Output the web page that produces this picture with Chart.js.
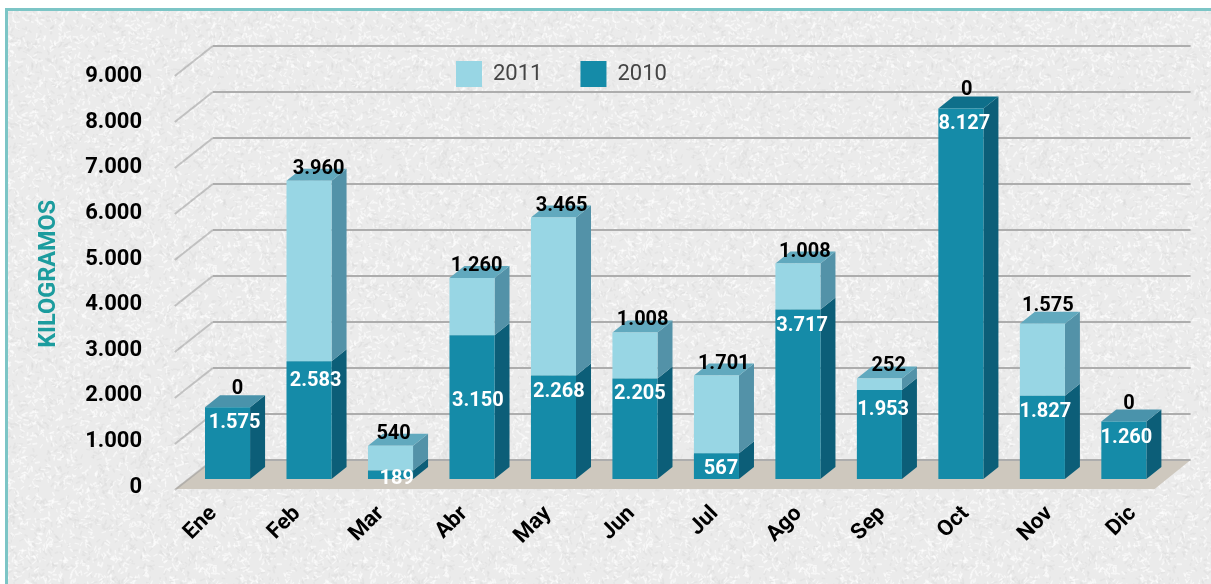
<!DOCTYPE html>
<html lang="es">
<head>
<meta charset="utf-8">
<style>html,body{margin:0;padding:0;background:#fff}canvas{display:block}</style>
<script src="https://cdn.jsdelivr.net/npm/chart.js@4"></script>
</head>
<body>
<canvas id="c" width="1211" height="584"></canvas>
<script>
const months = ['Ene','Feb','Mar','Abr','May','Jun','Jul','Ago','Sep','Oct','Nov','Dic'];
const values2010 = [1575,2583,189,3150,2268,2205,567,3717,1953,8127,1827,1260];
const values2011 = [0,3960,540,1260,3465,1008,1701,1008,252,0,1575,0];
const axisTitle = 'KILOGRAMOS';

const FONT = 'Roboto, sans-serif';
const fmt = v => String(v).replace(/\B(?=(\d{3})+$)/g, '.');
const innerNudge = {Feb:4, Mar:-7, Abr:50, Sep:4};
const topNudgeX = {Mar:-6, Abr:-4, Sep:3};
const DX = 15, DY = 12;
const PLOT_TOP = 68.6, PLOT_BOTTOM = 479;

function makeTexture() {
  const t = document.createElement('canvas');
  t.width = t.height = 300;
  const g = t.getContext('2d');
  g.fillStyle = '#ebebeb';
  g.fillRect(0, 0, 300, 300);
  let s = 12345;
  const r = () => (s = (s * 1103515245 + 12345) & 0x7fffffff) / 0x7fffffff;
  g.lineCap = 'round';
  for (let i = 0; i < 5000; i++) {
    const x = r() * 300, y = r() * 300, a = r() * 6.28, l = 1.5 + r() * 3;
    const light = r() > 0.4;
    g.strokeStyle = light ? 'rgba(255,255,255,0.55)' : 'rgba(218,218,218,0.4)';
    g.lineWidth = 1 + r();
    g.beginPath();
    g.moveTo(x, y);
    g.lineTo(x + Math.cos(a) * l, y + Math.sin(a) * l);
    g.stroke();
  }
  return t;
}
const texture = makeTexture();

function poly(ctx, pts, fill) {
  ctx.fillStyle = fill;
  ctx.beginPath();
  pts.forEach((p, i) => i ? ctx.lineTo(p[0], p[1]) : ctx.moveTo(p[0], p[1]));
  ctx.closePath();
  ctx.fill();
}

const scene = {
  id: 'scene',
  afterLayout(chart) {
    const l = chart.legend;
    l.left = 418; l.right = 1200; l.top = 23; l.bottom = 100;
    const y = chart.scales.y, area = chart.chartArea;
    y.top = PLOT_TOP; y.bottom = PLOT_BOTTOM; y.height = PLOT_BOTTOM - PLOT_TOP;
    y.configure();
    area.top = PLOT_TOP; area.bottom = PLOT_BOTTOM; area.height = PLOT_BOTTOM - PLOT_TOP;
  },
  beforeDraw(chart) {
    const {ctx, scales: {x, y}} = chart;
    ctx.save();
    ctx.fillStyle = '#fff';
    ctx.fillRect(0, 0, 1211, 584);
    ctx.fillStyle = ctx.createPattern(texture, 'repeat');
    ctx.fillRect(5, 8, 1206, 576);
    ctx.fillStyle = '#7cc5c6';
    ctx.fillRect(5, 8, 1206, 3);
    ctx.fillRect(5, 8, 3, 576);

    const y0 = y.getPixelForValue(0);
    const back = y0 - 19, bl = x.left + 26, br = x.right + 26, fl = x.left - 12, fr = x.right - 10;
    poly(ctx, [[fl, y0 + 10], [fr, y0 + 10], [br, back], [bl, back]], '#cec8be');
    y.ticks.forEach(t => {
      const by = back - (y0 - y.getPixelForValue(t.value)) * 46 / 45.6;
      ctx.lineWidth = 2;
      ctx.strokeStyle = 'rgba(150,150,150,0.5)';
      ctx.beginPath(); ctx.moveTo(fl, by + 30); ctx.lineTo(bl, by); ctx.stroke();
      ctx.strokeStyle = '#adadad';
      ctx.beginPath(); ctx.moveTo(bl, by); ctx.lineTo(br, by); ctx.stroke();
    });
    ctx.restore();
  },
  beforeDatasetsDraw(chart) {
    const {ctx} = chart;
    const metas = [chart.getDatasetMeta(0), chart.getDatasetMeta(1)];
    const sides = ['#0c5e78', '#5392a8'];
    const tops = ['#4a93ab', '#61a9be'];
    ctx.save();
    months.forEach((m, i) => {
      metas.forEach((meta, d) => {
        const b = meta.data[i], v = chart.data.datasets[d].data[i];
        if (!v) return;
        const r = b.x + b.width / 2;
        poly(ctx, [[r, b.y], [r + DX, b.y - DY], [r + DX, b.base - DY], [r, b.base]], sides[d]);
        const isTop = d === 1 || !chart.data.datasets[1].data[i];
        if (isTop) {
          const l = b.x - b.width / 2;
          poly(ctx, [[l, b.y], [l + DX, b.y - DY], [r + DX, b.y - DY], [r, b.y]], m === 'Oct' ? '#0e6f8a' : tops[d]);
        }
      });
    });
    ctx.restore();
  },
  afterDatasetsDraw(chart) {
    const {ctx} = chart;
    const m0 = chart.getDatasetMeta(0), m1 = chart.getDatasetMeta(1);
    ctx.save();
    ctx.textAlign = 'center';
    ctx.textBaseline = 'middle';
    ctx.font = 'bold 20px ' + FONT;
    months.forEach((m, i) => {
      const a = m0.data[i], b = m1.data[i];
      ctx.fillStyle = '#fff';
      ctx.fillText(fmt(values2010[i]), a.x + 7 - i * 0.4, a.y + 16 + (innerNudge[m] || 0));
      const zero = !values2011[i] || m === 'Nov';
      ctx.fillStyle = '#000';
      ctx.fillText(fmt(values2011[i]), b.x + 10 - i * 0.45 + (topNudgeX[m] || 0), b.y - (zero ? 18 : 12));
    });
    ctx.restore();
  }
};

new Chart(document.getElementById('c'), {
  type: 'bar',
  data: {
    labels: months,
    datasets: [
      {label: '2010', data: values2010, backgroundColor: '#158ba8', borderWidth: 0, barPercentage: 0.553, categoryPercentage: 1},
      {label: '2011', data: values2011, backgroundColor: '#98d6e4', borderWidth: 0, barPercentage: 0.553, categoryPercentage: 1}
    ]
  },
  options: {
    responsive: false,
    animation: false,
    layout: {padding: {left: 0, right: 46.4, top: 0, bottom: 0}},
    plugins: {
      tooltip: {enabled: false},
      legend: {
        position: 'top',
        align: 'start',
        reverse: true,
        labels: {boxWidth: 26, boxHeight: 26, padding: 38, color: '#444', font: {family: FONT, size: 22}}
      }
    },
    scales: {
      x: {
        stacked: true,
        grid: {display: false, drawTicks: false},
        border: {display: false},
        afterFit(s) { s.height = 105; },
        afterBuildTicks(s) {
          const base = Object.getPrototypeOf(s).getPixelForTick;
          s.getPixelForTick = function (i) { return base.call(this, i) + i * 2.1; };
        },
        ticks: {
          maxRotation: 45, minRotation: 45, padding: 22, labelOffset: -14, autoSkip: false, color: '#000',
          font: {family: FONT, size: 22, weight: 'bold'}
        }
      },
      y: {
        stacked: true,
        min: 0,
        max: 9000,
        grid: {display: false, drawTicks: false},
        border: {display: false},
        afterFit(s) { s.width = 186.8; },
        title: {
          display: true, text: axisTitle, color: '#1c9c9e',
          font: {family: FONT, size: 23.5, weight: 'bold'},
          padding: {top: 35, bottom: 0}
        },
        ticks: {
          stepSize: 1000, padding: 44.8, labelOffset: 8, color: '#000',
          font: {family: FONT, size: 22, weight: 'bold'},
          callback: v => fmt(v)
        }
      }
    }
  },
  plugins: [scene]
});
</script>
</body>
</html>
